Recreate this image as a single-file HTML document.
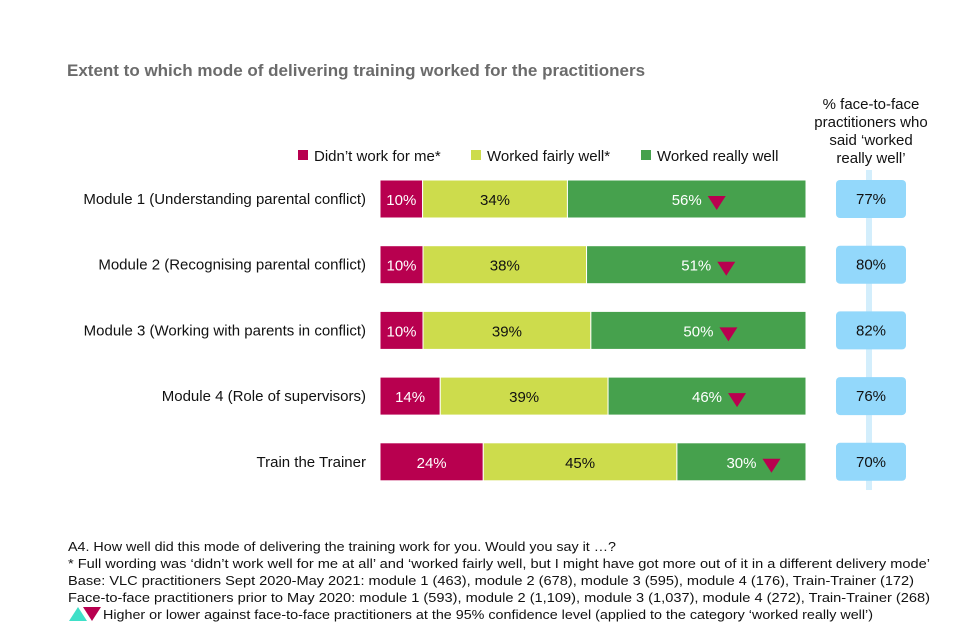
<!DOCTYPE html>
<html><head><meta charset="utf-8"><style>
body{margin:0;background:#fff;font-family:"Liberation Sans",Arial,sans-serif;}
#wrap{position:relative;width:960px;height:640px;overflow:hidden}
</style></head><body>
<div id="wrap">
<svg id="svg" width="960" height="640"></svg>
</div>
<script>
const categories=["Module 1 (Understanding parental conflict)","Module 2 (Recognising parental conflict)","Module 3 (Working with parents in conflict)","Module 4 (Role of supervisors)","Train the Trainer"];
const didntWork=[10,10,10,14,24];
const fairlyWell=[34,38,39,39,45];
const reallyWell=[56,51,50,46,30];
const faceToFace=[77,80,82,76,70];
const sigDown=[true,true,true,true,true];

const NS="http://www.w3.org/2000/svg";
const svg=document.getElementById('svg');
function el(t,a,txt){const e=document.createElementNS(NS,t);for(const k in a)e.setAttribute(k,a[k]);if(txt!==undefined)e.textContent=txt;svg.appendChild(e);return e;}
const x0=380,barW=426,rowY0=180,rowStep=65.7,barH=38;
const ys=i=>rowY0+i*rowStep;

let t=el('text',{x:67,y:76,'font-size':17,'font-weight':'bold',fill:'#6b6b6b'},'Extent to which mode of delivering training worked for the practitioners');



const leg=[["#b8004f","Didn’t work for me*",298],["#cddc4c","Worked fairly well*",471],["#46a14d","Worked really well",641]];
leg.forEach(l=>{
 const r=el('rect',{x:l[2],y:150,width:10,height:10,fill:l[0]});
 
 
 const tx=el('text',{x:l[2]+16,y:161,'font-size':15,fill:'#111'},l[1]);
 
 
});
["% face-to-face","practitioners who","said ‘worked","really well’"].forEach((s,i)=>{
 const h=el('text',{x:871,y:109+i*18,'font-size':15,fill:'#111','text-anchor':'middle'},s);
 
 
});
let vl=el('rect',{x:866,y:170,width:6,height:320,fill:'#d3eefc'});



categories.forEach((c,i)=>{
 const y=ys(i);
 const total=didntWork[i]+fairlyWell[i]+reallyWell[i];
 const xs=v=>x0+v/total*barW;
 const lab=el('text',{x:366,y:y+24,'font-size':15,fill:'#111','text-anchor':'end'},c);
 
 
 const segs=[[didntWork[i],'#b8004f','#fff'],[fairlyWell[i],'#cddc4c','#111'],[reallyWell[i],'#46a14d','#fff']];
 let acc=0;
 segs.forEach((s,j)=>{
  const r=el('rect',{x:xs(acc),y:y,width:xs(acc+s[0])-xs(acc),height:barH,fill:s[1],stroke:'#fff','stroke-width':1});
  
  
  const cx=(xs(acc)+xs(acc+s[0]))/2;
  const vt=el('text',{x:cx,y:y+25,'font-size':15,fill:s[2],'text-anchor':'middle'},s[0]+'%');
  
  
  if(j==2&&sigDown[i]){
   const tx=cx+30,ty=y+16;
   const tri=el('polygon',{points:`${tx-9},${ty} ${tx+9},${ty} ${tx},${ty+14}`,fill:'#b8004f'});
   
   
  }
  acc+=s[0];
 });
 const b=el('rect',{x:836,y:y,width:70,height:barH,rx:4,fill:'#93d8fb'});
 
 
 const bt=el('text',{x:871,y:y+24,'font-size':15,fill:'#111','text-anchor':'middle'},faceToFace[i]+'%');
 
 
});

const notes=["A4. How well did this mode of delivering the training work for you. Would you say it …?",
"* Full wording was ‘didn’t work well for me at all’ and ‘worked fairly well, but I might have got more out of it in a different delivery mode’",
"Base: VLC practitioners Sept 2020-May 2021: module 1 (463), module 2 (678), module 3 (595), module 4 (176), Train-Trainer (172)",
"Face-to-face practitioners prior to May 2020: module 1 (593), module 2 (1,109), module 3 (1,037), module 4 (272), Train-Trainer (268)"];
const noteLens=[548,862,846,862];
notes.forEach((n,i)=>{
 const f=el('text',{x:68,y:551+i*17,'font-size':12.5,fill:'#111',textLength:noteLens[i],lengthAdjust:'spacingAndGlyphs'},n);
 
 
});
let up=el('polygon',{points:"69,621 87,621 78,607",fill:'#3fe0c8'});


let dn=el('polygon',{points:"83,607 101,607 92,621",fill:'#b8004f'});


let ft=el('text',{x:103,y:619,'font-size':12.5,fill:'#111',textLength:770,lengthAdjust:'spacingAndGlyphs'},"Higher or lower against face-to-face practitioners at the 95% confidence level (applied to the category ‘worked really well’)");


</script>
</body></html>
